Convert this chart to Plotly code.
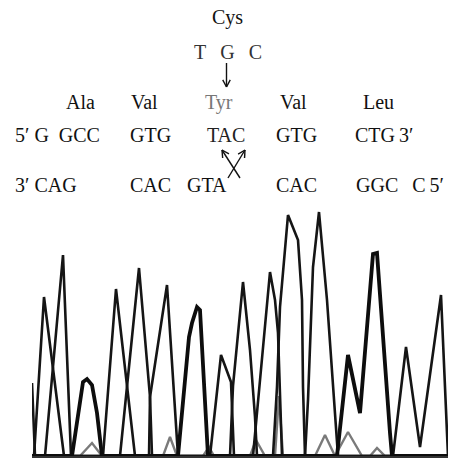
import math
import plotly.graph_objects as go

W, H = 451, 460

# ---- chromatogram data (scan position, signal) ----
scan_a = [0, 2, 12, 32, 71, 84, 103, 117, 118, 135, 146, 198, 201, 211, 218, 223, 225,
          241, 245, 248, 256, 266, 270, 271, 273, 361, 374, 388, 409, 416]
sig_a = [0, 0, 159, 0, 0, 167, 0, 0, 59, 171, 0, 0, 70, 174, 106, 39, 0,
         0, 69, 149, 241, 216, 156, 69, 0, 0, 109, 9, 161, 0]

scan_b = [0, 3, 13, 31, 39, 88, 107, 118, 120, 178, 189, 194, 199, 202,
          221, 238, 243, 246, 248, 250, 273, 276, 281, 287, 295, 301, 306, 416]
sig_b = [73, 0, 0, 201, 0, 0, 188, 59, 0, 0, 101, 88, 74, 0,
         0, 184, 156, 123, 69, 0, 0, 56, 189, 244, 156, 69, 0, 0]

scan_thick = [0, 40, 51, 55, 60, 65, 70, 146, 157, 160, 165, 168, 176,
              305, 316, 328, 341, 345, 358, 360, 416]
sig_thick = [0, 0, 74, 77, 71, 43, 0, 0, 119, 133, 149, 146, 0,
             0, 101, 43, 202, 203, 23, 0, 0]

scan_gray = [0, 48, 60, 70, 131, 138, 145, 171, 177, 182, 218, 224, 233, 243, 247, 251,
             283, 293, 303, 316, 330, 338, 345, 353, 416]
sig_gray = [0, 0, 13, 0, 0, 19, 0, 0, 9, 0, 0, 16, 0, 0, 60, 0,
            0, 21, 0, 24, 0, 0, 8, 0, 0]

# ---- sequence labels ----
top_aa = "Cys"
top_codon = "T\u2002\u2009G\u2002\u2009C"
aa_names = ["Ala", "Val", "Tyr", "Val", "Leu"]
aa_x = [80, 144, 219, 293, 378]
fwd_codons = ["5\u2032 G\u2002GCC", "GTG", "TAC", "GTG", "CTG\u20093\u2032"]
fwd_x = [13, 150, 226, 296, 353]
fwd_anchor = ["left", "center", "center", "center", "left"]
rev_codons = ["3\u2032 CAG", "CAC", "GTA", "CAC", "GGC\u2002\u2009C\u20095\u2032"]
rev_x = [13, 150, 207, 296, 354]
rev_anchor = ["left", "center", "center", "center", "left"]

FONT = "Liberation Serif"

fig = go.Figure()
for xs, ys, col, wd in [(scan_gray, sig_gray, "#7a7a7a", 2.4),
                        (scan_a, sig_a, "#151515", 2.6),
                        (scan_b, sig_b, "#151515", 2.6),
                        (scan_thick, sig_thick, "#0d0d0d", 3.8)]:
    fig.add_trace(go.Scatter(x=xs, y=ys, mode="lines",
                             line=dict(color=col, width=wd),
                             hoverinfo="skip", showlegend=False))


def px(x):
    return x / W


def py(y):
    return 1 - y / H


ann = []


def label(text, x, y, anchor="center", color="#111", size=20):
    ann.append(dict(text=text, x=px(x), y=py(y), xref="paper", yref="paper",
                    xanchor=anchor, yanchor="middle", showarrow=False,
                    font=dict(family=FONT, size=size, color=color)))


label(top_aa, 228, 17.5)
label(top_codon, 228, 52, color="#333")
for t, x in zip(aa_names, aa_x):
    label(t, x, 102, color="#777" if t == "Tyr" else "#111")
for t, x, a in zip(fwd_codons, fwd_x, fwd_anchor):
    label(t, x, 134.5, anchor=a, color="#222" if t == "TAC" else "#111")
for t, x, a in zip(rev_codons, rev_x, rev_anchor):
    label(t, x, 185, anchor=a)

shapes = []


def arrow(x0, y0, x1, y1, L=8, ang=28):
    shapes.append(dict(type="line", xref="paper", yref="paper",
                       x0=px(x0), y0=py(y0), x1=px(x1), y1=py(y1),
                       line=dict(color="#111", width=1.4)))
    dx, dy = x1 - x0, y1 - y0
    n = math.hypot(dx, dy)
    ux, uy = dx / n, dy / n
    for s in (1, -1):
        a = math.radians(ang * s)
        bx = ux * math.cos(a) - uy * math.sin(a)
        by = ux * math.sin(a) + uy * math.cos(a)
        shapes.append(dict(type="line", xref="paper", yref="paper",
                           x0=px(x1), y0=py(y1), x1=px(x1 - L * bx), y1=py(y1 - L * by),
                           line=dict(color="#111", width=1.4)))


arrow(226.5, 63, 226.5, 87)
arrow(228, 178, 245, 150)
arrow(240, 178, 222, 150)

fig.update_layout(
    width=W, height=H, margin=dict(l=0, r=0, t=0, b=0),
    paper_bgcolor="white", plot_bgcolor="white",
    xaxis=dict(domain=[32 / W, 448 / W], range=[0, 416], showgrid=False, zeroline=False,
               showticklabels=False, ticks="", showline=True, linecolor="#333", linewidth=1.5),
    yaxis=dict(domain=[4 / H, 254 / H], range=[0, 250], showgrid=False, zeroline=False,
               showticklabels=False, ticks="", showline=False),
    annotations=ann, shapes=shapes,
)

fig.write_html("out.html", config={"displayModeBar": False},
               post_script="document.body.style.margin='0';document.body.style.overflow='hidden';")
